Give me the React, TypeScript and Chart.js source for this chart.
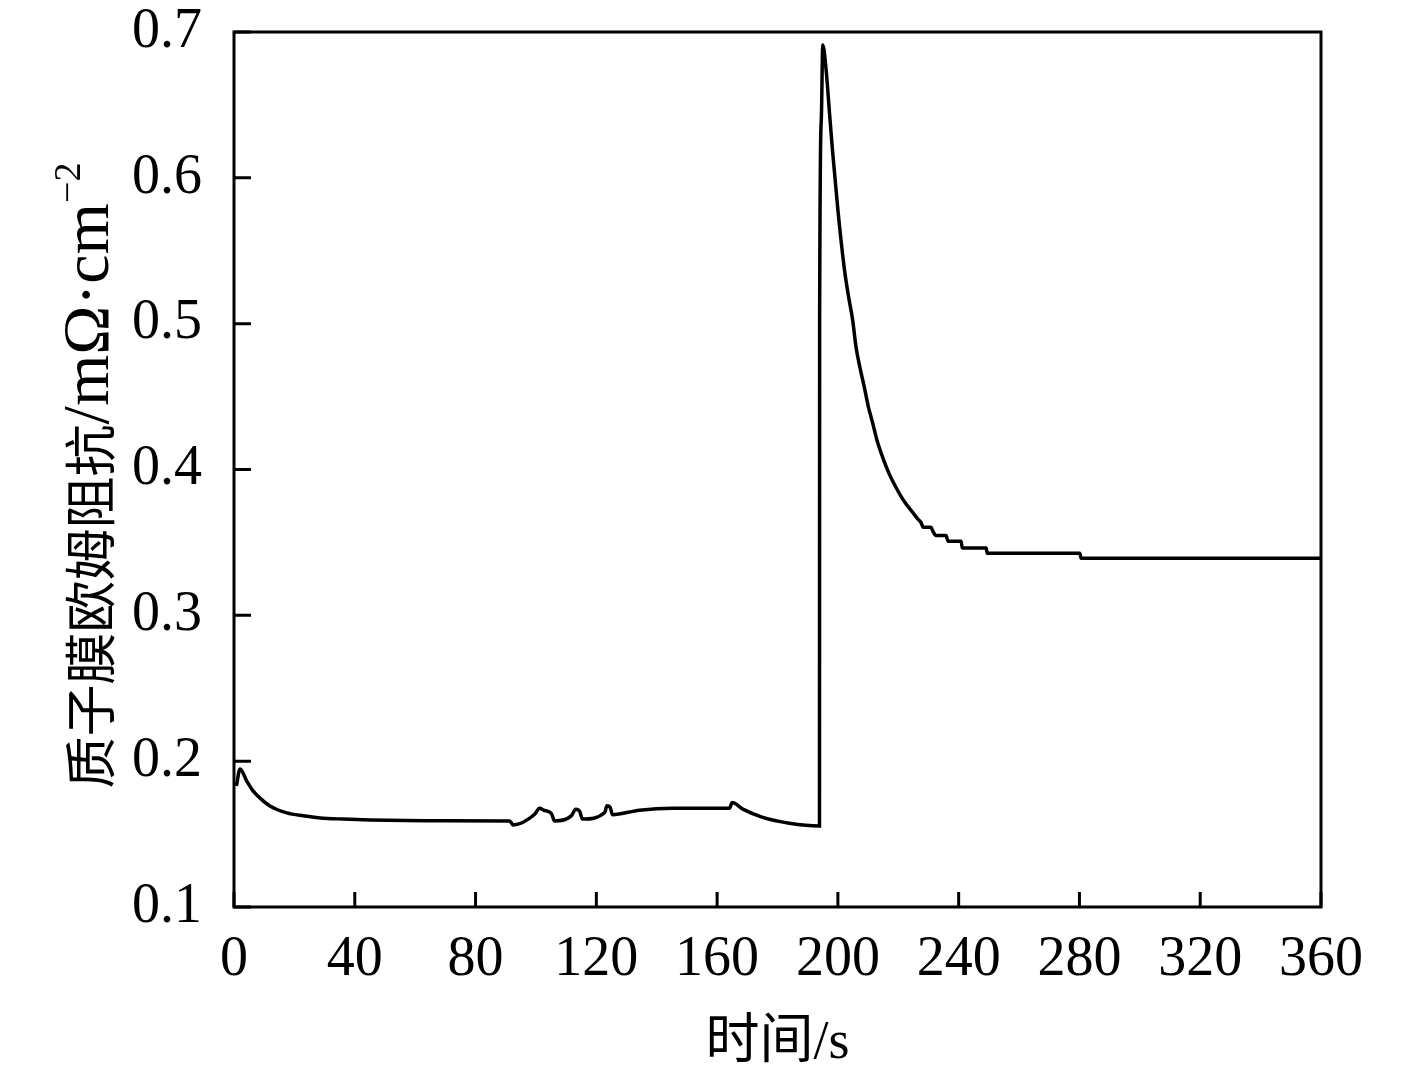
import React, { useEffect, useRef } from "react";
import { Chart, registerables } from "chart.js";

Chart.register(...registerables);

// time (s)
const timeS = [
  0.8, 2.0, 4.2, 6.3, 9.0, 11.9, 17.5, 23.0, 28.5, 36.0,
  45.0, 70.0, 91.3, 92.4, 99.6, 101.2, 102.5, 105.1, 106.2, 111.7,
  113.2, 114.5, 115.4, 122.8, 123.5, 124.6, 125.3, 134.3, 145.4, 164.1,
  165.0, 168.5, 175.1, 183.9, 193.9, 193.95, 194.5, 195.0, 196.1, 197.2,
  198.3, 200.0, 202.2, 203.5, 204.9, 206.0, 207.4, 208.8, 210.1, 211.5,
  213.1, 214.8, 217.0, 219.3, 222.0, 224.8, 226.5, 227.5, 228.3, 230.8,
  231.5, 232.5, 235.8, 236.5, 240.8, 241.2, 249.1, 249.5, 280.1, 280.6,
  360.0,
];
// proton membrane ohmic resistance (mΩ·cm^-2)
const resistance = [
  0.183, 0.1947, 0.1865, 0.1796, 0.174, 0.1693, 0.1645, 0.1625, 0.1611, 0.1603,
  0.1597, 0.1592, 0.159, 0.1563, 0.1636, 0.1677, 0.1665, 0.1641, 0.159, 0.1625,
  0.1671, 0.1655, 0.1603, 0.1648, 0.1694, 0.1683, 0.1633, 0.1664, 0.1677, 0.1677,
  0.1716, 0.1671, 0.1615, 0.1575, 0.1556, 0.5, 0.6396, 0.6911, 0.674, 0.645,
  0.6167, 0.578, 0.5366, 0.519, 0.5023, 0.484, 0.469, 0.456, 0.443, 0.432,
  0.419, 0.4085, 0.397, 0.3875, 0.378, 0.3705, 0.366, 0.3638, 0.3604, 0.3604,
  0.3575, 0.3547, 0.3547, 0.3508, 0.3508, 0.3462, 0.3462, 0.3425, 0.3425, 0.3391,
  0.3391,
];

const xTicks = [0, 40, 80, 120, 160, 200, 240, 280, 320, 360];
const yTicks = [0.1, 0.2, 0.3, 0.4, 0.5, 0.6, 0.7];

const xTitle = "时间/s";
const yTitleCjk = "质子膜欧姆阻抗";
const yTitleLatin = "/mΩ·cm";
const yTitleSup = "−2";

const SERIF = '"Liberation Serif", serif';
const FONT = '"Liberation Serif", "Noto Sans CJK SC", serif';
const CJK = '"Noto Sans CJK SC", sans-serif';

const framePlugin = {
  id: "frameAndTicks",
  afterDatasetsDraw(chart: any) {
    const { ctx, chartArea, scales } = chart;
    const { left, right, top, bottom } = chartArea;
    ctx.save();
    ctx.strokeStyle = "#000";
    ctx.lineWidth = 3;
    ctx.strokeRect(left, top, right - left, bottom - top);
    ctx.beginPath();
    for (const v of xTicks) {
      const px = scales.x.getPixelForValue(v);
      ctx.moveTo(px, bottom);
      ctx.lineTo(px, bottom - 15);
    }
    for (const v of yTicks) {
      const py = scales.y.getPixelForValue(v);
      ctx.moveTo(left, py);
      ctx.lineTo(left + 17, py);
    }
    ctx.stroke();

    // y-axis title with mixed fonts and superscript
    ctx.fillStyle = "#000";
    const cx = 88;
    const cy = (top + bottom) / 2 + 6;
    ctx.translate(cx, cy);
    ctx.rotate(-Math.PI / 2);
    const fCjk = `52px ${CJK}`;
    const fLat = `66px ${SERIF}`;
    const fSup = `38px ${SERIF}`;
    ctx.font = fCjk;
    const w1 = ctx.measureText(yTitleCjk).width;
    ctx.font = fLat;
    const w2 = ctx.measureText(yTitleLatin).width;
    ctx.font = fSup;
    const w3 = ctx.measureText(yTitleSup).width;
    const total = w1 + w2 + w3;
    ctx.textAlign = "left";
    ctx.textBaseline = "alphabetic";
    let x0 = -total / 2;
    const base = 20;
    ctx.font = fCjk;
    ctx.fillText(yTitleCjk, x0, base + 2);
    x0 += w1;
    ctx.font = fLat;
    ctx.fillText(yTitleLatin, x0, base);
    x0 += w2;
    ctx.font = fSup;
    ctx.fillText(yTitleSup, x0, base - 28);
    ctx.restore();
  },
};

export default function App() {
  const canvasRef = useRef<HTMLCanvasElement | null>(null);

  useEffect(() => {
    if (!canvasRef.current) return;
    const points = timeS.map((t, i) => ({ x: t, y: resistance[i] }));
    const chart = new Chart(canvasRef.current, {
      type: "line",
      data: {
        datasets: [
          {
            data: points,
            borderColor: "#000",
            borderWidth: 3.5,
            pointRadius: 0,
            cubicInterpolationMode: "monotone",
            fill: false,
          },
        ],
      },
      options: {
        animation: false,
        responsive: true,
        maintainAspectRatio: false,
        layout: { padding: { top: 0, right: 96, left: 0, bottom: 0 } },
        plugins: { legend: { display: false }, tooltip: { enabled: false } },
        scales: {
          x: {
            type: "linear",
            min: 0,
            max: 360,
            afterBuildTicks: (scale: any) => {
              scale.ticks = xTicks.map((v) => ({ value: v }));
            },
            afterFit: (scale: any) => {
              scale.height = 1078 - 907;
              scale.paddingLeft = 0;
              scale.paddingRight = 0;
            },
            grid: { display: false, drawTicks: false, tickLength: 0 },
            border: { display: false },
            ticks: {
              color: "#000",
              font: { family: SERIF, size: 56 },
              padding: 20,
              maxRotation: 0,
              autoSkip: false,
            },
            title: {
              display: true,
              text: xTitle,
              color: "#000",
              font: { family: FONT, size: 54 },
              padding: { top: 0, bottom: 2 },
            },
          },
          y: {
            type: "linear",
            min: 0.1,
            max: 0.7,
            afterBuildTicks: (scale: any) => {
              scale.ticks = yTicks.map((v) => ({ value: v }));
            },
            afterFit: (scale: any) => {
              scale.width = 234;
              scale.paddingTop = 32;
              scale.paddingBottom = 0;
            },
            grid: { display: false, drawTicks: false, tickLength: 0 },
            border: { display: false },
            ticks: {
              color: "#000",
              font: { family: SERIF, size: 56 },
              padding: 32,
              autoSkip: false,
              callback: (v: any) => Number(v).toFixed(1),
            },
          },
        },
      },
      plugins: [framePlugin],
    });
    return () => chart.destroy();
  }, []);

  return (
    <div style={{ position: "absolute", left: 0, top: 0, width: 1417, height: 1078, background: "#fff" }}>
      <canvas ref={canvasRef} />
    </div>
  );
}
